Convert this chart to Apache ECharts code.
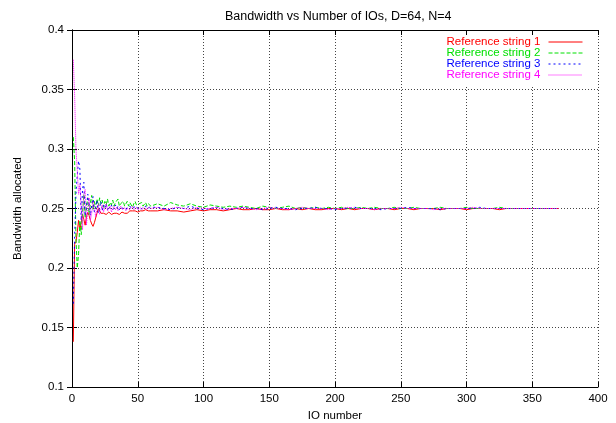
<!DOCTYPE html>
<html>
<head>
<meta charset="utf-8">
<script src="https://cdn.jsdelivr.net/npm/echarts@6/dist/echarts.min.js"></script>
<style>
html,body{margin:0;padding:0;background:#fff;}
#chart{width:616px;height:423px;}
</style>
</head>
<body>
<div id="chart"></div>
<script>
var chartTitle = 'Bandwidth vs Number of IOs, D=64, N=4';
var xAxisTitle = 'IO number';
var yAxisTitle = 'Bandwidth allocated';
var seriesNames = ['Reference string 1', 'Reference string 2', 'Reference string 3', 'Reference string 4'];

var ioNumbers = [
  1,2,3,4,5,6,7,8,9,10,
  11,12,13,14,15,16,17,18,19,20,
  21,22,23,24,25,26,27,28,29,30,
  31,32,33,34,35,36,37,38,39,40,
  41,42,43,44,45,46,47,48,49,50,
  51,52,53,54,55,56,57,58,59,60,
  65,70,75,80,85,90,95,100,105,110,
  115,120,125,130,135,140,145,150,155,160,
  165,170,175,180,185,190,195,200,205,210,
  215,220,225,230,235,240,245,250,255,260,
  265,270,275,280,285,290,295,300,305,310,
  315,320,325,330,335,340,345,350,355,360,
  365,370
];

var ref1 = [
  0.138,0.220,0.222,0.230,0.240,0.232,0.238,0.245,0.241,0.236,
  0.243,0.247,0.244,0.240,0.237,0.235,0.238,0.242,0.246,0.250,
  0.248,0.246,0.245,0.246,0.246,0.245,0.246,0.247,0.246,0.245,
  0.246,0.246,0.247,0.246,0.246,0.245,0.246,0.247,0.246,0.246,
  0.247,0.246,0.247,0.248,0.247,0.248,0.247,0.248,0.248,0.247,
  0.248,0.248,0.249,0.248,0.248,0.249,0.248,0.248,0.249,0.248,
  0.248,0.249,0.248,0.248,0.247,0.248,0.249,0.248,0.249,0.249,
  0.248,0.249,0.250,0.249,0.249,0.250,0.249,0.249,0.250,0.249,
  0.249,0.250,0.249,0.250,0.249,0.249,0.250,0.250,0.249,0.250,
  0.249,0.250,0.250,0.249,0.250,0.250,0.249,0.250,0.250,0.249,
  0.250,0.250,0.250,0.249,0.250,0.250,0.250,0.249,0.250,0.250,
  0.250,0.250,0.249,0.250,0.250,0.250,0.250,0.250,0.250,0.250,
  0.250,0.250
];

var ref2 = [
  0.310,0.290,0.225,0.200,0.212,0.240,0.228,0.246,0.262,0.242,
  0.252,0.259,0.245,0.255,0.261,0.249,0.256,0.250,0.258,0.252,
  0.259,0.254,0.257,0.251,0.256,0.253,0.258,0.252,0.255,0.253,
  0.257,0.252,0.255,0.254,0.258,0.252,0.254,0.253,0.256,0.252,
  0.254,0.256,0.252,0.255,0.253,0.251,0.254,0.256,0.253,0.252,
  0.254,0.253,0.255,0.252,0.253,0.255,0.252,0.254,0.253,0.252,
  0.254,0.252,0.255,0.253,0.252,0.254,0.252,0.251,0.253,0.252,
  0.251,0.252,0.251,0.252,0.251,0.250,0.252,0.251,0.250,0.251,
  0.252,0.250,0.251,0.250,0.251,0.250,0.251,0.250,0.251,0.250,
  0.250,0.251,0.250,0.251,0.250,0.250,0.251,0.250,0.250,0.251,
  0.250,0.250,0.250,0.251,0.250,0.250,0.250,0.251,0.250,0.250,
  0.250,0.250,0.251,0.250,0.250,0.250,0.250,0.250,0.250,0.250,
  0.250,0.250
];

var ref3 = [
  0.170,0.225,0.262,0.278,0.290,0.283,0.240,0.266,0.272,0.244,
  0.250,0.262,0.256,0.244,0.253,0.260,0.247,0.252,0.257,0.246,
  0.251,0.256,0.248,0.253,0.250,0.254,0.249,0.252,0.250,0.253,
  0.249,0.251,0.253,0.250,0.252,0.249,0.251,0.252,0.250,0.251,
  0.249,0.251,0.250,0.252,0.250,0.249,0.251,0.250,0.252,0.250,
  0.251,0.249,0.250,0.251,0.250,0.252,0.250,0.249,0.251,0.250,
  0.251,0.250,0.249,0.251,0.250,0.252,0.250,0.249,0.250,0.251,
  0.250,0.249,0.250,0.251,0.250,0.250,0.249,0.250,0.251,0.250,
  0.250,0.249,0.250,0.250,0.251,0.250,0.250,0.249,0.250,0.250,
  0.251,0.250,0.250,0.250,0.249,0.250,0.250,0.250,0.251,0.250,
  0.250,0.250,0.250,0.249,0.250,0.250,0.250,0.250,0.250,0.251,
  0.250,0.250,0.250,0.250,0.250,0.250,0.250,0.250,0.250,0.250,
  0.250,0.250
];

var ref4 = [
  0.375,0.345,0.300,0.282,0.262,0.270,0.250,0.232,0.262,0.266,
  0.236,0.250,0.259,0.240,0.246,0.256,0.251,0.243,0.250,0.254,
  0.245,0.249,0.253,0.247,0.251,0.254,0.248,0.250,0.252,0.247,
  0.250,0.252,0.249,0.251,0.248,0.250,0.252,0.249,0.250,0.251,
  0.248,0.250,0.251,0.249,0.250,0.252,0.249,0.250,0.251,0.249,
  0.250,0.251,0.249,0.250,0.251,0.250,0.249,0.251,0.250,0.250,
  0.251,0.249,0.250,0.251,0.250,0.249,0.251,0.250,0.250,0.251,
  0.249,0.250,0.250,0.251,0.250,0.249,0.250,0.251,0.250,0.250,
  0.249,0.250,0.251,0.250,0.250,0.250,0.249,0.250,0.250,0.251,
  0.250,0.250,0.250,0.249,0.250,0.250,0.250,0.251,0.250,0.250,
  0.250,0.250,0.249,0.250,0.250,0.250,0.250,0.250,0.251,0.250,
  0.250,0.250,0.250,0.250,0.250,0.250,0.250,0.250,0.250,0.250,
  0.250,0.250
];

var seriesValues = [ref1, ref2, ref3, ref4];
var seriesColors = ['#ff0000', '#00e000', '#0000ff', '#ff00ff'];
var seriesDash = ['solid', [4, 2], [2, 3], [1, 1]];

var FONT = '"Liberation Sans", Arial, Helvetica, sans-serif';
var FS = 11.5;

function pairs(vals) {
  return vals.map(function (v, i) { return [ioNumbers[i], v]; });
}

var series = seriesValues.map(function (vals, k) {
  return {
    name: seriesNames[k],
    type: 'line',
    data: pairs(vals),
    symbol: 'none',
    showSymbol: false,
    xAxisIndex: 0,
    yAxisIndex: 0,
    lineStyle: { color: seriesColors[k], width: 1, type: seriesDash[k] },
    itemStyle: { color: seriesColors[k] },
    z: 2 + k
  };
});

var tickCommon = { show: true, inside: true, length: 5, lineStyle: { color: '#000', width: 1 } };
var axisLineCommon = { show: true, lineStyle: { color: '#000', width: 1 } };
var gridLine = { show: true, lineStyle: { color: '#444', width: 1, type: [1, 2] } };

var option = {
  animation: false,
  backgroundColor: '#fff',
  textStyle: { fontFamily: FONT },
  title: {
    text: chartTitle,
    left: 220,
    top: 5,
    textStyle: { fontFamily: FONT, fontSize: 12.5, fontWeight: 'normal', color: '#000' }
  },
  grid: { left: 72, right: 18, top: 30, bottom: 36, outerBoundsMode: 'none', containLabel: false },
  legend: {
    orient: 'vertical',
    right: 29,
    top: 36,
    align: 'right',
    itemWidth: 34,
    itemHeight: 10,
    itemGap: -1,
    padding: [0, 4, 4, 6],
    backgroundColor: '#fff',
    selectedMode: false,
    itemStyle: { opacity: 0, borderWidth: 0 },
    lineStyle: { width: 1 },
    data: seriesNames.map(function (n, k) {
      return { name: n, textStyle: { color: seriesColors[k] } };
    }),
    textStyle: { fontFamily: FONT, fontSize: FS, lineHeight: 10, padding: [0, 3, 0, 0] }
  },
  xAxis: [
    {
      type: 'value', min: 0, max: 400, interval: 50, position: 'bottom',
      name: xAxisTitle, nameLocation: 'middle', nameGap: 14,
      nameTextStyle: { fontFamily: FONT, fontSize: FS, color: '#000' },
      axisLine: axisLineCommon, axisTick: tickCommon,
      axisLabel: { color: '#000', fontFamily: FONT, fontSize: FS, margin: 6 },
      splitLine: gridLine
    },
    {
      type: 'value', min: 0, max: 400, interval: 50, position: 'top',
      axisLine: axisLineCommon, axisTick: tickCommon,
      axisLabel: { show: false }, splitLine: { show: false }
    }
  ],
  yAxis: [
    {
      type: 'value', min: 0.1, max: 0.4, interval: 0.05, position: 'left',
      name: yAxisTitle, nameLocation: 'middle', nameGap: 48, nameRotate: 90,
      nameTextStyle: { fontFamily: FONT, fontSize: FS, color: '#000' },
      axisLine: axisLineCommon, axisTick: tickCommon,
      axisLabel: {
        color: '#000', fontFamily: FONT, fontSize: FS, margin: 8,
        formatter: function (v) { return String(Math.round(v * 100) / 100); }
      },
      splitLine: gridLine
    },
    {
      type: 'value', min: 0.1, max: 0.4, interval: 0.05, position: 'right',
      axisLine: axisLineCommon, axisTick: tickCommon,
      axisLabel: { show: false }, splitLine: { show: false }
    }
  ],
  series: series
};

var chart = echarts.init(document.getElementById('chart'), null, { renderer: 'canvas' });
chart.setOption(option);
</script>
</body>
</html>
